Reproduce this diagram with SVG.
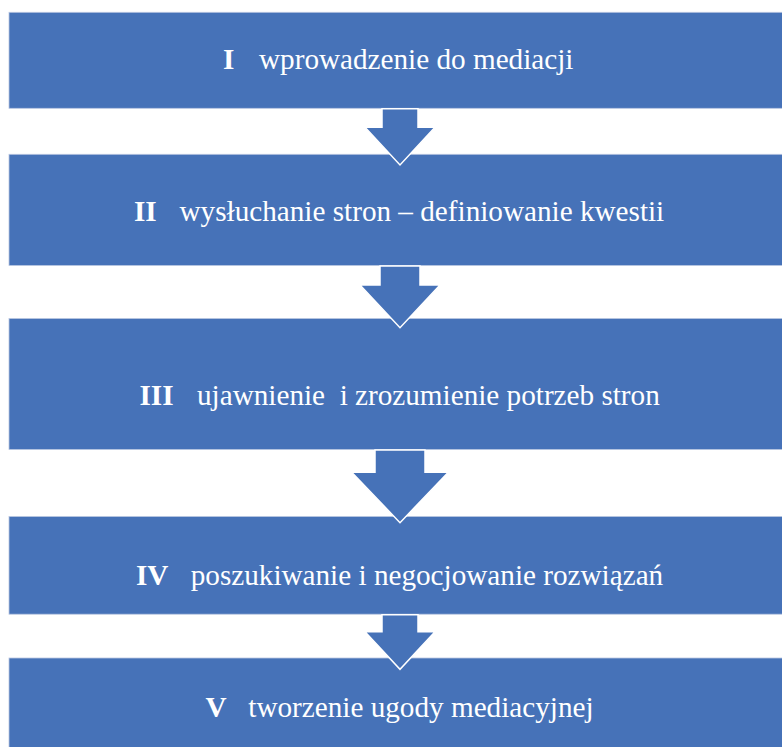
<svg xmlns="http://www.w3.org/2000/svg" width="782" height="747" viewBox="0 0 782 747">
<style>
.box{fill:#4672B8;stroke:#b9c7e2;stroke-width:0.8}
.arr{fill:#4672B8;stroke:#ffffff;stroke-width:1.5;stroke-linejoin:miter}
.t{font-family:"Liberation Serif","DejaVu Serif",serif;font-size:29.2px;fill:#ffffff}
.t tspan{font-family:"Liberation Serif","DejaVu Serif",serif;font-weight:normal}
.t tspan.n{font-weight:bold}
</style>
<rect x="0" y="0" width="782" height="747" fill="#ffffff"/>
<g id="step1"><rect class="box" x="9" y="12.3" width="790" height="96"/>
<text class="t" y="69"><tspan class="n" x="223">I</tspan><tspan x="259">wprowadzenie do mediacji</tspan></text></g>
<g id="step2"><rect class="box" x="9" y="154.3" width="790" height="111.2"/>
<text class="t" y="220.5"><tspan class="n" x="134">II</tspan><tspan x="179.5">wysłuchanie stron – definiowanie kwestii</tspan></text></g>
<g id="step3"><rect class="box" x="9" y="318.5" width="790" height="131"/>
<text class="t" y="405"><tspan class="n" x="139.5">III</tspan><tspan x="197" xml:space="preserve">ujawnienie  i zrozumienie potrzeb stron</tspan></text></g>
<g id="step4"><rect class="box" x="9" y="516.5" width="790" height="97.7"/>
<text class="t" y="584.6"><tspan class="n" x="136">IV</tspan><tspan x="190.7">poszukiwanie i negocjowanie rozwiązań</tspan></text></g>
<g id="step5"><rect class="box" x="9" y="658" width="790" height="100"/>
<text class="t" y="716.7"><tspan class="n" x="205.5">V</tspan><tspan x="248.3">tworzenie ugody mediacyjnej</tspan></text></g>
<g id="connectors">
<polygon class="arr" points="382,108.8 418,108.8 418,127.3 435,127.3 400,165 365,127.3 382,127.3"/>
<polygon class="arr" points="380,266 420,266 420,285 440,285 400,327.7 360,285 380,285"/>
<polygon class="arr" points="375,450 425,450 425,472.3 448.3,472.3 400,522.7 351.7,472.3 375,472.3"/>
<polygon class="arr" points="382,614.7 418,614.7 418,631.7 435,631.7 400,669.3 365,631.7 382,631.7"/>
</g>
</svg>
